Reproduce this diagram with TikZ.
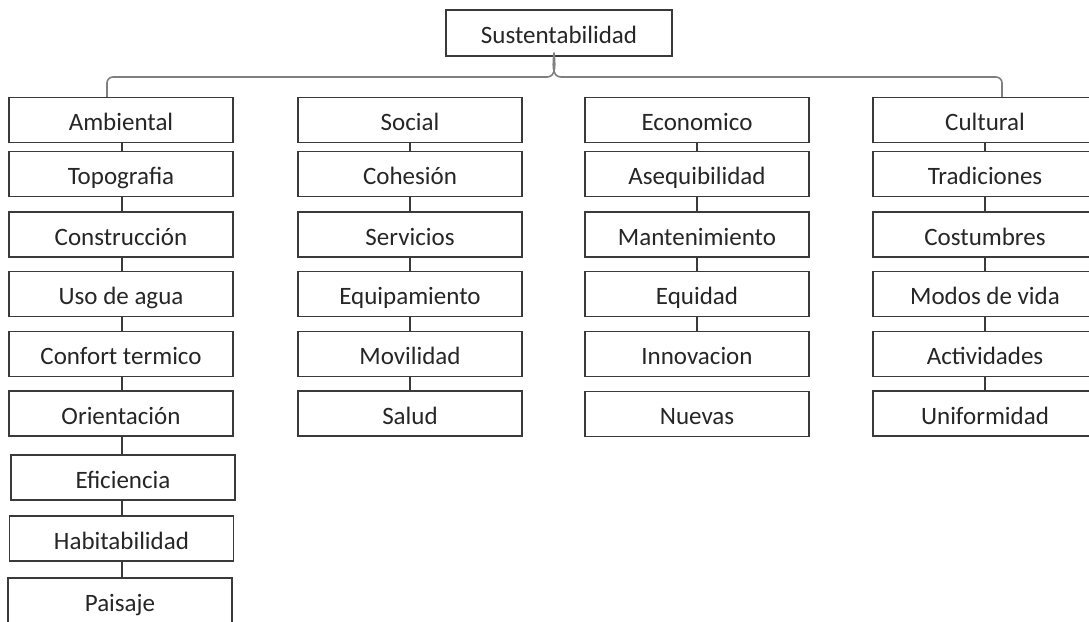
\documentclass[tikz,border=0pt]{standalone}
\usepackage{fontspec}
\setmainfont{Carlito}
\definecolor{boxline}{HTML}{3A3A3A}
\definecolor{txt}{HTML}{262626}
\definecolor{bracecol}{HTML}{7F7F7F}
\tikzset{
  item/.style={draw=boxline, line width=1.3pt, fill=white, rectangle,
    minimum width=224pt, minimum height=45pt, inner sep=0pt,
    text height=22pt, text depth=1pt,
    text=txt, font=\fontsize{25}{29}\selectfont},
  link/.style={draw=boxline, line width=1.3pt},
  bracestyle/.style={draw=bracecol, line width=1.6pt, line join=round}
}
\begin{document}
\begin{tikzpicture}[x=1pt,y=-1pt]
\useasboundingbox (0,0) rectangle (1089,621);
\begin{scope}
\clip (0,0) rectangle (1089,621);
% top
\node[item, minimum width=226pt, minimum height=46pt] (top) at (559,33) {Sustentabilidad};
% brace
\coordinate (bl) at (107,97);
\coordinate (br) at (1002,97);
\coordinate (bt) at (554,53);
\draw[bracestyle] (bl) -- (107,83) to[out=90,in=180] (113,77) -- (547,77)
  to[out=0,in=-85] (bt) to[out=-95,in=180] (561,77) -- (996,77)
  to[out=0,in=90] (br |- 0,83) -- (br);
% column 1
\node[item] (a1) at (121,120) {Ambiental};
\node[item] (a2) at (121,174) {Topografia};
\node[item] (a3) at (121,234.5) {Construcción};
\node[item] (a4) at (121,294) {Uso de agua};
\node[item] (a5) at (121,354) {Confort termico};
\node[item] (a6) at (121,413.5) {Orientación};
\node[item] (a7) at (123,477.5) {Eficiencia};
\node[item] (a8) at (121.5,538.5) {Habitabilidad};
\node[item] (a9) at (120,600.5) {Paisaje};
% column 2
\node[item] (b1) at (410,120) {Social};
\node[item] (b2) at (410,174) {Cohesión};
\node[item] (b3) at (410,234.5) {Servicios};
\node[item] (b4) at (410,294) {Equipamiento};
\node[item] (b5) at (410,354) {Movilidad};
\node[item] (b6) at (410,413.5) {Salud};
% column 3
\node[item] (c1) at (697,120) {Economico};
\node[item] (c2) at (697,174) {Asequibilidad};
\node[item] (c3) at (697,234.5) {Mantenimiento};
\node[item] (c4) at (697,294) {Equidad};
\node[item] (c5) at (697,354) {Innovacion};
\node[item] (c6) at (697,414) {Nuevas};
% column 4
\node[item] (d1) at (985,120) {Cultural};
\node[item] (d2) at (985,174) {Tradiciones};
\node[item] (d3) at (985,234.5) {Costumbres};
\node[item] (d4) at (985,294) {Modos de vida};
\node[item] (d5) at (985,354) {Actividades};
\node[item] (d6) at (985,413.5) {Uniformidad};
% connectors
\foreach \p/\q in {b1/b2,b2/b3,b3/b4,b4/b5,b5/b6,
                   c1/c2,c2/c3,c3/c4,c4/c5,
                   d1/d2,d2/d3,d3/d4,d4/d5,d5/d6}
  \draw[link] (\p.south) -- (\q.north);
\coordinate (ax) at (122,0);
\foreach \p/\q in {a1/a2,a2/a3,a3/a4,a4/a5,a5/a6,a6/a7,a7/a8,a8/a9}
  \draw[link] (ax |- \p.south) -- (ax |- \q.north);
\end{scope}
\end{tikzpicture}
\end{document}
